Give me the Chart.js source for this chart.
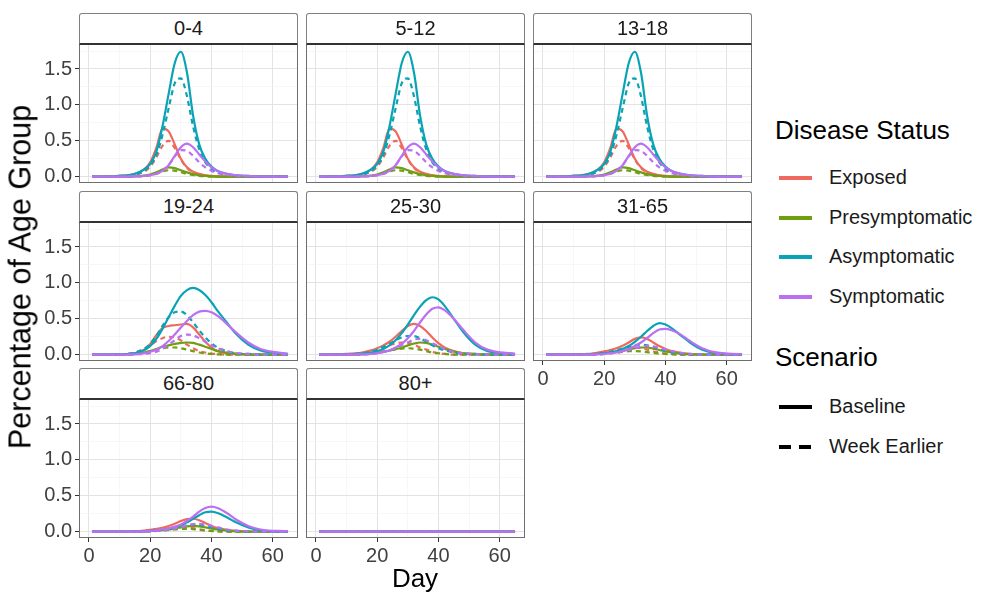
<!DOCTYPE html>
<html>
<head>
<meta charset="utf-8">
<title>Disease status by age group</title>
<script src="https://cdn.jsdelivr.net/npm/chart.js@4.4.1/dist/chart.umd.min.js"></script>
<style>
  body { margin: 0; background: #fff; font-family: "Liberation Sans", Arial, sans-serif; }
  #page { position: relative; width: 989px; height: 594px; overflow: hidden; }
  .strip {
    position: absolute; box-sizing: border-box; background: #fff;
    border: 1px solid #808080; border-bottom: 2px solid #333;
    border-radius: 3px 3px 0 0; text-align: center; font-size: 20px;
    line-height: 28px; color: #1a1a1a; z-index: 2;
  }
  .panel { position: absolute; }
  .axis-title { position: absolute; font-size: 26px; color: #000; white-space: nowrap; transform: translate(-50%, -50%); }
  .legend-title { position: absolute; font-size: 26px; color: #000; white-space: nowrap; }
  .legend-item { position: absolute; font-size: 20px; color: #1a1a1a; white-space: nowrap; }
  .swatch { position: absolute; height: 4px; }
</style>
</head>
<body>
<div id="page"></div>
<script>
// day of simulation (x values shared by every series)
const days = [1, 10, 15, 18, 20, 22, 24, 26, 28, 30, 32, 34, 36, 38, 40, 42, 45, 48, 52, 56, 65];

const ageGroups = ['0-4', '5-12', '13-18', '19-24', '25-30', '31-65', '66-80', '80+'];
const statuses = ['Exposed', 'Presymptomatic', 'Asymptomatic', 'Symptomatic'];
const statusColors = ['#F0695F', '#6E9F10', '#0AA3B5', '#BB70F3'];
const scenarios = ['Baseline', 'Week Earlier'];

const xTicks = [0, 10, 20, 30, 40, 50, 60];
const xMajor = [0, 20, 40, 60];
const yTicks = [0, 0.25, 0.5, 0.75, 1, 1.25, 1.5, 1.75];
const yMajor = [0, 0.5, 1, 1.5];

// 0-4, 5-12 and 13-18 look the same in the figure
const childExposed = [0, 0.01, 0.04, 0.1, 0.2, 0.4, 0.67, 0.63, 0.45, 0.25, 0.13, 0.07, 0.04, 0.02, 0.01, 0.005, 0, 0, 0, 0, 0];
const childExposedWk = [0, 0.01, 0.03, 0.07, 0.14, 0.27, 0.43, 0.5, 0.4, 0.24, 0.12, 0.06, 0.03, 0.015, 0.01, 0, 0, 0, 0, 0, 0];
const childPresym = [0, 0, 0.005, 0.015, 0.03, 0.06, 0.1, 0.13, 0.12, 0.09, 0.06, 0.035, 0.02, 0.01, 0.005, 0, 0, 0, 0, 0, 0];
const childPresymWk = [0, 0, 0.005, 0.01, 0.02, 0.04, 0.07, 0.09, 0.085, 0.065, 0.04, 0.025, 0.01, 0.005, 0, 0, 0, 0, 0, 0, 0];
const childAsym = [0, 0.01, 0.04, 0.1, 0.18, 0.35, 0.7, 1.15, 1.58, 1.74, 1.45, 0.85, 0.45, 0.25, 0.14, 0.08, 0.04, 0.02, 0.01, 0, 0];
const childAsymWk = [0, 0.01, 0.03, 0.08, 0.16, 0.3, 0.58, 0.95, 1.3, 1.37, 1.12, 0.7, 0.38, 0.2, 0.11, 0.06, 0.03, 0.015, 0.005, 0, 0];
const childSympt = [0, 0, 0.005, 0.01, 0.02, 0.04, 0.08, 0.16, 0.29, 0.41, 0.46, 0.41, 0.31, 0.21, 0.13, 0.08, 0.04, 0.02, 0.01, 0, 0];
const childSymptWk = [0, 0, 0.005, 0.01, 0.02, 0.04, 0.08, 0.16, 0.28, 0.37, 0.36, 0.29, 0.2, 0.13, 0.08, 0.05, 0.025, 0.01, 0.005, 0, 0];

const a1924Exposed = [0, 0.005, 0.02, 0.07, 0.15, 0.27, 0.37, 0.4, 0.41, 0.42, 0.43, 0.38, 0.28, 0.18, 0.1, 0.05, 0.02, 0.01, 0, 0, 0];
const a1924ExposedWk = [0, 0.005, 0.03, 0.08, 0.13, 0.19, 0.23, 0.25, 0.24, 0.2, 0.14, 0.09, 0.05, 0.03, 0.015, 0.01, 0, 0, 0, 0, 0];
const a1924Presym = [0, 0, 0.01, 0.03, 0.05, 0.08, 0.11, 0.13, 0.15, 0.165, 0.17, 0.165, 0.14, 0.11, 0.08, 0.05, 0.03, 0.015, 0.005, 0, 0];
const a1924PresymWk = [0, 0, 0.01, 0.03, 0.05, 0.07, 0.09, 0.1, 0.1, 0.09, 0.07, 0.05, 0.03, 0.02, 0.01, 0.005, 0, 0, 0, 0, 0];
const a1924Asym = [0, 0.005, 0.02, 0.06, 0.12, 0.22, 0.36, 0.52, 0.68, 0.82, 0.9, 0.93, 0.9, 0.83, 0.73, 0.61, 0.45, 0.29, 0.14, 0.06, 0.01];
const a1924AsymWk = [0, 0.005, 0.03, 0.08, 0.15, 0.26, 0.4, 0.52, 0.59, 0.6, 0.55, 0.45, 0.34, 0.24, 0.16, 0.1, 0.05, 0.02, 0.01, 0, 0];
const a1924Sympt = [0, 0, 0.005, 0.02, 0.04, 0.07, 0.12, 0.19, 0.28, 0.38, 0.47, 0.55, 0.6, 0.61, 0.59, 0.54, 0.43, 0.31, 0.17, 0.08, 0.01];
const a1924SymptWk = [0, 0, 0.005, 0.01, 0.02, 0.04, 0.08, 0.14, 0.2, 0.26, 0.28, 0.27, 0.23, 0.18, 0.13, 0.09, 0.05, 0.02, 0.01, 0, 0];

const a2530Exposed = [0, 0.01, 0.03, 0.06, 0.09, 0.13, 0.18, 0.25, 0.33, 0.4, 0.43, 0.4, 0.33, 0.24, 0.16, 0.1, 0.05, 0.02, 0.01, 0, 0];
const a2530ExposedWk = [0, 0.005, 0.02, 0.05, 0.07, 0.1, 0.13, 0.155, 0.17, 0.165, 0.14, 0.1, 0.07, 0.04, 0.02, 0.01, 0, 0, 0, 0, 0];
const a2530Presym = [0, 0, 0.005, 0.015, 0.025, 0.04, 0.055, 0.075, 0.1, 0.13, 0.155, 0.17, 0.165, 0.14, 0.11, 0.08, 0.045, 0.02, 0.01, 0, 0];
const a2530PresymWk = [0, 0, 0.005, 0.02, 0.03, 0.045, 0.06, 0.075, 0.085, 0.09, 0.085, 0.07, 0.05, 0.03, 0.02, 0.01, 0, 0, 0, 0, 0];
const a2530Asym = [0, 0.005, 0.015, 0.03, 0.05, 0.08, 0.13, 0.2, 0.3, 0.42, 0.55, 0.67, 0.76, 0.8, 0.77, 0.68, 0.5, 0.32, 0.14, 0.05, 0.01];
const a2530AsymWk = [0, 0.005, 0.02, 0.04, 0.07, 0.11, 0.15, 0.2, 0.24, 0.26, 0.26, 0.23, 0.18, 0.13, 0.09, 0.06, 0.03, 0.015, 0.005, 0, 0];
const a2530Sympt = [0, 0, 0.005, 0.01, 0.02, 0.04, 0.06, 0.1, 0.15, 0.23, 0.33, 0.45, 0.56, 0.64, 0.66, 0.62, 0.5, 0.35, 0.17, 0.07, 0.01];
const a2530SymptWk = [0, 0, 0, 0.01, 0.02, 0.04, 0.06, 0.09, 0.13, 0.17, 0.21, 0.22, 0.2, 0.16, 0.12, 0.08, 0.04, 0.02, 0.01, 0, 0];

const a3165Exposed = [0, 0.005, 0.01, 0.03, 0.045, 0.065, 0.09, 0.125, 0.17, 0.22, 0.24, 0.22, 0.17, 0.12, 0.08, 0.05, 0.025, 0.01, 0, 0, 0];
const a3165ExposedWk = [0, 0.005, 0.01, 0.025, 0.035, 0.05, 0.065, 0.08, 0.095, 0.1, 0.09, 0.07, 0.045, 0.03, 0.015, 0.01, 0, 0, 0, 0, 0];
const a3165Presym = [0, 0, 0.005, 0.01, 0.02, 0.03, 0.04, 0.055, 0.07, 0.09, 0.1, 0.1, 0.085, 0.065, 0.045, 0.03, 0.015, 0.005, 0, 0, 0];
const a3165PresymWk = [0, 0, 0, 0.005, 0.01, 0.02, 0.03, 0.04, 0.048, 0.05, 0.045, 0.035, 0.025, 0.015, 0.01, 0.005, 0, 0, 0, 0, 0];
const a3165Asym = [0, 0, 0.005, 0.01, 0.02, 0.03, 0.05, 0.08, 0.12, 0.18, 0.25, 0.33, 0.4, 0.44, 0.42, 0.37, 0.27, 0.17, 0.07, 0.025, 0];
const a3165AsymWk = [0, 0, 0.005, 0.015, 0.025, 0.04, 0.06, 0.085, 0.11, 0.135, 0.14, 0.13, 0.11, 0.08, 0.055, 0.035, 0.015, 0.005, 0, 0, 0];
const a3165Sympt = [0, 0, 0, 0.005, 0.01, 0.02, 0.03, 0.05, 0.08, 0.12, 0.17, 0.23, 0.3, 0.35, 0.36, 0.34, 0.28, 0.19, 0.09, 0.035, 0.005];
const a3165SymptWk = [0, 0, 0, 0, 0.01, 0.02, 0.03, 0.045, 0.065, 0.09, 0.11, 0.12, 0.115, 0.095, 0.07, 0.05, 0.025, 0.01, 0, 0, 0];

const a6680Exposed = [0, 0, 0.005, 0.015, 0.025, 0.04, 0.055, 0.08, 0.11, 0.15, 0.175, 0.18, 0.16, 0.12, 0.08, 0.05, 0.025, 0.01, 0, 0, 0];
const a6680ExposedWk = [0, 0, 0.005, 0.01, 0.02, 0.03, 0.04, 0.05, 0.065, 0.07, 0.065, 0.05, 0.035, 0.02, 0.01, 0.005, 0, 0, 0, 0, 0];
const a6680Presym = [0, 0, 0, 0.005, 0.01, 0.015, 0.02, 0.03, 0.045, 0.06, 0.075, 0.08, 0.075, 0.06, 0.045, 0.03, 0.015, 0.005, 0, 0, 0];
const a6680PresymWk = [0, 0, 0, 0, 0.005, 0.01, 0.015, 0.02, 0.03, 0.038, 0.04, 0.035, 0.025, 0.015, 0.01, 0.005, 0, 0, 0, 0, 0];
const a6680Asym = [0, 0, 0, 0.005, 0.01, 0.015, 0.025, 0.04, 0.06, 0.09, 0.13, 0.18, 0.23, 0.27, 0.28, 0.26, 0.2, 0.13, 0.06, 0.02, 0];
const a6680AsymWk = [0, 0, 0, 0.005, 0.01, 0.015, 0.025, 0.035, 0.05, 0.07, 0.09, 0.1, 0.095, 0.08, 0.06, 0.04, 0.02, 0.01, 0, 0, 0];
const a6680Sympt = [0, 0, 0, 0.005, 0.01, 0.02, 0.03, 0.045, 0.07, 0.1, 0.15, 0.21, 0.28, 0.33, 0.35, 0.33, 0.26, 0.17, 0.08, 0.03, 0.005];
const a6680SymptWk = [0, 0, 0, 0, 0.005, 0.01, 0.02, 0.03, 0.045, 0.065, 0.085, 0.105, 0.11, 0.1, 0.08, 0.06, 0.03, 0.015, 0.005, 0, 0];

// 80+ stays flat at zero
const a80Flat = [0, 0, 0, 0, 0, 0, 0, 0, 0, 0, 0, 0, 0, 0, 0, 0, 0, 0, 0, 0, 0];

// [baseline series, week-earlier series] per age group, in status order
const panelSeries = [
  [[childExposed, childPresym, childAsym, childSympt], [childExposedWk, childPresymWk, childAsymWk, childSymptWk]],
  [[childExposed, childPresym, childAsym, childSympt], [childExposedWk, childPresymWk, childAsymWk, childSymptWk]],
  [[childExposed, childPresym, childAsym, childSympt], [childExposedWk, childPresymWk, childAsymWk, childSymptWk]],
  [[a1924Exposed, a1924Presym, a1924Asym, a1924Sympt], [a1924ExposedWk, a1924PresymWk, a1924AsymWk, a1924SymptWk]],
  [[a2530Exposed, a2530Presym, a2530Asym, a2530Sympt], [a2530ExposedWk, a2530PresymWk, a2530AsymWk, a2530SymptWk]],
  [[a3165Exposed, a3165Presym, a3165Asym, a3165Sympt], [a3165ExposedWk, a3165PresymWk, a3165AsymWk, a3165SymptWk]],
  [[a6680Exposed, a6680Presym, a6680Asym, a6680Sympt], [a6680ExposedWk, a6680PresymWk, a6680AsymWk, a6680SymptWk]],
  [[a80Flat, a80Flat, a80Flat, a80Flat], [a80Flat, a80Flat, a80Flat, a80Flat]]
];

// layout (px)
const colLeft = [79, 306, 533];
const rowTop = [13, 191, 368];
const STRIP_H = 31;
const PLOT_W = 219;
const PLOT_H = 139;
const Y_AXIS_W = 62;
const X_AXIS_H = 34;

Chart.defaults.font.family = '"Liberation Sans", Arial, sans-serif';

const page = document.getElementById('page');

// gray panel frame, drawn on top like ggplot's panel.border
const panelBorder = {
  id: 'panelBorder',
  afterDraw(chart) {
    const { ctx, chartArea: a } = chart;
    ctx.save();
    ctx.strokeStyle = '#6e6e6e';
    ctx.lineWidth = 1;
    ctx.strokeRect(a.left + 0.5, a.top + 0.5, a.right - a.left - 1, a.bottom - a.top - 1);
    ctx.restore();
  }
};

function gridColor(majors) {
  return (c) => majors.includes(c.tick.value) ? '#e3e3e3' : '#f1f1f1';
}
function gridWidth(majors) {
  return (c) => majors.includes(c.tick.value) ? 1 : 0.6;
}
function tickColor(majors) {
  return (c) => majors.includes(c.tick.value) ? '#333' : 'rgba(0,0,0,0)';
}

function makePanel(i) {
  const col = i % 3;
  const row = Math.floor(i / 3);
  const left = colLeft[col];
  const top = rowTop[row];
  const showY = col === 0;
  const showX = i >= 5; // bottom panel of each column

  const strip = document.createElement('div');
  strip.className = 'strip';
  strip.style.left = left + 'px';
  strip.style.top = top + 'px';
  strip.style.width = PLOT_W + 'px';
  strip.style.height = (STRIP_H + 1) + 'px';
  strip.textContent = ageGroups[i];
  page.appendChild(strip);

  const wrap = document.createElement('div');
  wrap.className = 'panel';
  wrap.style.left = (left - Y_AXIS_W) + 'px';
  wrap.style.top = (top + STRIP_H) + 'px';
  wrap.style.width = (PLOT_W + Y_AXIS_W) + 'px';
  wrap.style.height = (PLOT_H + X_AXIS_H) + 'px';
  const canvas = document.createElement('canvas');
  wrap.appendChild(canvas);
  page.appendChild(wrap);

  // first dataset is drawn top-most: symptomatic baseline first, exposed week-earlier last
  const datasets = [];
  [3, 2, 1, 0].forEach(s => {
    scenarios.forEach((sc, k) => {
      const vals = panelSeries[i][k][s];
      datasets.push({
        label: statuses[s] + ' (' + sc + ')',
        data: vals.map((v, j) => ({ x: days[j], y: v })),
        borderColor: statusColors[s],
        borderWidth: 2.2,
        borderDash: k === 1 ? [5, 4] : [],
        pointRadius: 0,
        cubicInterpolationMode: 'monotone',
        fill: false
      });
    });
  });

  new Chart(canvas, {
    type: 'line',
    data: { datasets },
    options: {
      responsive: true,
      maintainAspectRatio: false,
      animation: false,
      layout: { padding: 0, autoPadding: false },
      plugins: { legend: { display: false }, tooltip: { enabled: false } },
      scales: {
        x: {
          type: 'linear',
          min: -3.25,
          max: 68.25,
          afterBuildTicks: (s) => { s.ticks = xTicks.map(v => ({ value: v })); },
          afterFit: (s) => {
            s.height = X_AXIS_H;
            s.paddingLeft = 0; s.paddingRight = 0; s.paddingTop = 0; s.paddingBottom = 0;
          },
          border: { display: false },
          grid: {
            color: gridColor(xMajor),
            lineWidth: gridWidth(xMajor),
            drawTicks: showX,
            tickLength: 4,
            tickWidth: 1,
            tickColor: tickColor(xMajor)
          },
          ticks: {
            display: showX,
            autoSkip: false,
            maxRotation: 0,
            padding: 2,
            color: '#404040',
            font: { size: 20 },
            callback: (v) => xMajor.includes(v) ? String(v) : ''
          }
        },
        y: {
          type: 'linear',
          min: -0.088,
          max: 1.848,
          afterBuildTicks: (s) => { s.ticks = yTicks.map(v => ({ value: v })); },
          afterFit: (s) => {
            s.width = Y_AXIS_W;
            s.paddingLeft = 0; s.paddingRight = 0; s.paddingTop = 0; s.paddingBottom = 0;
          },
          border: { display: false },
          grid: {
            color: gridColor(yMajor),
            lineWidth: gridWidth(yMajor),
            drawTicks: showY,
            tickLength: 4,
            tickWidth: 1,
            tickColor: tickColor(yMajor)
          },
          ticks: {
            display: showY,
            autoSkip: false,
            padding: 3,
            color: '#404040',
            font: { size: 20 },
            callback: (v) => yMajor.includes(v) ? v.toFixed(1) : ''
          }
        }
      }
    },
    plugins: [panelBorder]
  });
}

ageGroups.forEach((g, i) => makePanel(i));

// axis titles
function addText(cls, text, x, y, extra) {
  const el = document.createElement('div');
  el.className = cls;
  el.textContent = text;
  el.style.left = x + 'px';
  el.style.top = y + 'px';
  if (extra) el.style.transform = extra;
  page.appendChild(el);
  return el;
}
const yTitle = addText('axis-title', 'Percentage of Age Group', 20, 277, 'translate(-50%, -50%) rotate(-90deg)');
yTitle.style.fontSize = '30.5px';
addText('axis-title', 'Day', 415, 578);

// legend
addText('legend-title', 'Disease Status', 775, 115);
statuses.forEach((st, s) => {
  const cy = 178 + s * 39.7;
  const sw = document.createElement('div');
  sw.className = 'swatch';
  sw.style.left = '779px';
  sw.style.top = (cy - 2) + 'px';
  sw.style.width = '33px';
  sw.style.background = statusColors[s];
  page.appendChild(sw);
  addText('legend-item', st, 829, cy - 12);
});
addText('legend-title', 'Scenario', 775, 342);
scenarios.forEach((sc, k) => {
  const cy = 407 + k * 40;
  if (k === 0) {
    const sw = document.createElement('div');
    sw.className = 'swatch';
    sw.style.left = '779px';
    sw.style.top = (cy - 2) + 'px';
    sw.style.width = '33px';
    sw.style.background = '#000';
    page.appendChild(sw);
  } else {
    [779, 799].forEach(x0 => {
      const d = document.createElement('div');
      d.className = 'swatch';
      d.style.left = x0 + 'px';
      d.style.top = (cy - 2) + 'px';
      d.style.width = '12px';
      d.style.background = '#000';
      page.appendChild(d);
    });
  }
  addText('legend-item', sc, 829, cy - 12);
});
</script>
</body>
</html>
